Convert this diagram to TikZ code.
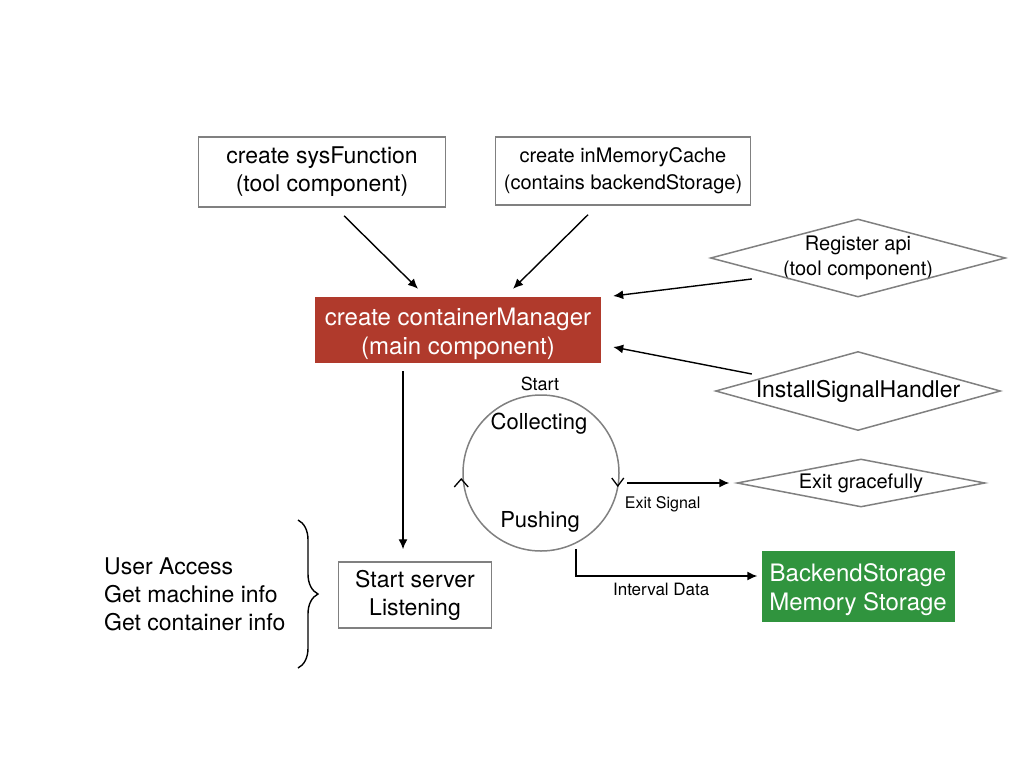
\documentclass[tikz,border=0pt]{standalone}
\usepackage{fontspec}
\setmainfont{TeX Gyre Heros}
\usepackage{xcolor}
\usetikzlibrary{arrows.meta,decorations.pathreplacing}
\definecolor{boxGray}{RGB}{128, 128, 128}
\definecolor{managerRed}{RGB}{176, 58, 44}
\definecolor{storageGreen}{RGB}{48, 148, 62}

\begin{document}
\begin{tikzpicture}[x=1pt, y=-1pt]
                    \tikzstyle{box} = [draw=boxGray, line width=1.5pt, inner sep=0pt, align=center, font=\fontsize{23}{28}\selectfont]
                    \tikzstyle{filledbox} = [inner sep=0pt]
                    \tikzstyle{filltext} = [align=center, text=white, inner sep=0pt, yshift=-4pt, font=\fontsize{24}{29}\selectfont]
                    \tikzstyle{dtext} = [inner sep=0pt, align=center]
                    \tikzstyle{dline} = [draw=boxGray, line width=1.5pt]
                    \tikzstyle{arrow} = [-{Latex[length=10pt, width=9pt]}, line width=1.4pt]
                    \tikzstyle{small} = [font=\fontsize{17}{20}\selectfont]
                    \useasboundingbox (0,0) rectangle (1024,768);
                    % top boxes
                    \node[box, minimum width=247, minimum height=70] (sys) at (322,172) {create sysFunction\\(tool component)};
                    \node[box, minimum width=255, minimum height=68, font=\fontsize{20}{27}\selectfont] (cache) at (623,171) {create inMemoryCache\\(contains backendStorage)};
                    \node[filledbox, fill=managerRed, minimum width=286, minimum height=66, label={[filltext]center:create containerManager\\(main component)}] (mgr) at (458,330) {};
                    % diamonds
                    \node[dtext, minimum width=294, minimum height=77, font=\fontsize{20}{25}\selectfont] (reg) at (858,258) {Register api\\(tool component)};
                    \draw[dline] (reg.west) -- (reg.north) -- (reg.east) -- (reg.south) -- cycle;
                    \node[dtext, minimum width=284, minimum height=78, font=\fontsize{23}{28}\selectfont] (sig) at (858,391) {\raisebox{-5pt}{InstallSignalHandler}};
                    \draw[dline] (sig.west) -- (sig.north) -- (sig.east) -- (sig.south) -- cycle;
                    \node[dtext, minimum width=247, minimum height=47, font=\fontsize{20}{24}\selectfont] (exit) at (861,483) {Exit gracefully};
                    \draw[dline] (exit.west) -- (exit.north) -- (exit.east) -- (exit.south) -- cycle;
                    % collecting loop
                    \node[circle, draw=boxGray, line width=1.5pt, minimum size=156, inner sep=0pt] (loop) at (541,473) {};
                    \node[small, font=\fontsize{18}{20}\selectfont] (start) at (540,384) {Start};
                    \node[font=\fontsize{22}{26}\selectfont] (collect) at (539,424) {Collecting};
                    \node[font=\fontsize{22}{26}\selectfont] (push) at (540,522) {Pushing};
                    \draw[line width=1.3pt] ([shift={(-8,14)}]loop.west) -- ([shift={(-1,6)}]loop.west) -- ([shift={(6,14)}]loop.west);
                    \draw[line width=1.3pt] ([shift={(-8,5)}]loop.east) -- ([shift={(-2,13)}]loop.east) -- ([shift={(4,5)}]loop.east);
                    % storage and server
                    \node[filledbox, fill=storageGreen, minimum width=193, minimum height=71, label={[filltext]center:BackendStorage\\Memory Storage}] (store) at (858,586) {};
                    \node[box, minimum width=153, minimum height=66] (srv) at (415,595) {Start server\\Listening};
                    \node[align=left, inner sep=0pt, anchor=west, font=\fontsize{23}{28}\selectfont] (access) at (104,594) {User Access\\Get machine info\\Get container info};
                    \draw[line width=1.4pt, decorate, decoration={brace, amplitude=20pt}] (298,520) -- (298,668);
                    % connectors
                    \draw[arrow] ([shift={(22,8)}]sys.south) -- ([shift={(-40,-8)}]mgr.north);
                    \draw[arrow] ([shift={(-35,9)}]cache.south) -- ([shift={(55,-8)}]mgr.north);
                    \draw[arrow] ([shift={(41,21)}]reg.west) -- ([shift={(12,-34)}]mgr.east);
                    \draw[arrow] ([shift={(36,-17)}]sig.west) -- ([shift={(12,17)}]mgr.east);
                    \draw[arrow] ([shift={(-55,8)}]mgr.south) -- ([shift={(-12,-12)}]srv.north);
                    \draw[arrow] ([shift={(7,10)}]loop.east) -- node[small, font=\fontsize{16}{18}\selectfont, pos=0.35, below=10pt] {Exit Signal} ([shift={(-8,0)}]exit.west);
                    \draw[arrow] ([shift={(35,-3)}]loop.south) |- node[small, pos=0.735, below=3pt] {Interval Data} ([shift={(-4,-10)}]store.west);
                \end{tikzpicture}
\end{document}
